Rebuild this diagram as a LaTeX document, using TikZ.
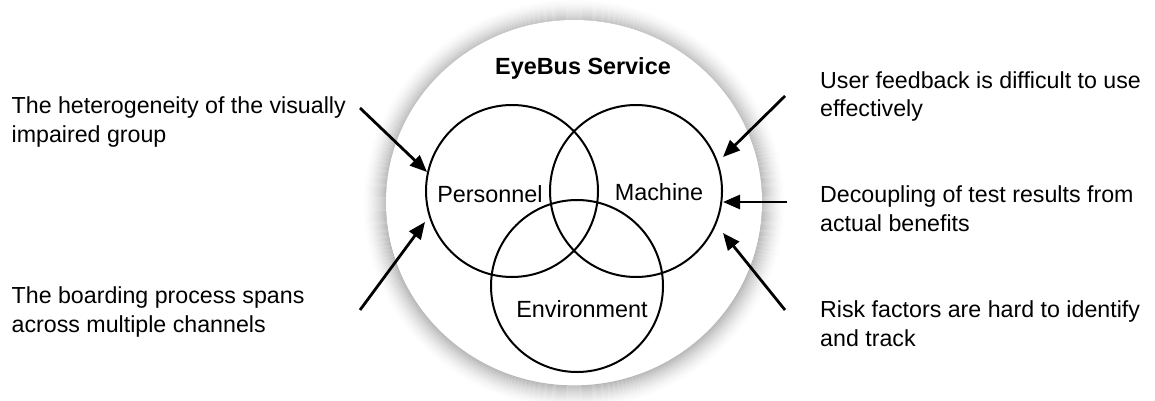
\documentclass[tikz,border=0pt]{standalone}
\usepackage{fontspec}
\setmainfont{Liberation Sans}
\usetikzlibrary{arrows.meta}
\tikzset{
  every picture/.style={x=1pt,y=-1pt},
  % multi-line notes: anchored at the baseline of their last line
  txt/.style={inner sep=0pt,align=left,anchor=base west,font=\fontsize{23.2}{28.8}\selectfont},
  lbl/.style={inner sep=0pt,font=\fontsize{23.4}{27}\selectfont},
  venn/.style={draw=black,line width=2pt,circle,minimum size=172pt,inner sep=0pt},
  push/.style={line width=2.8pt,-{Triangle[length=17pt,width=14pt]}}
}
\begin{document}
\begin{tikzpicture}
\useasboundingbox (0,0) rectangle (1155,401);
% soft grey halo behind the service disc
\foreach \i [evaluate=\i as \g using {28*(1-\i/24)^1.6}] in {0,...,24}
  \draw[line width=1.2pt,draw=black!\g] (574,204) ellipse ({188+\i} and {182+\i});
\fill[white] (574,202) ellipse (188 and 182);

\node[lbl,font=\bfseries\fontsize{23.4}{27}\selectfont] (title) at (583,68) {EyeBus Service};

% the three overlapping domains
\node[venn] (P) at (512,191) {};
\node[venn] (M) at (636,191) {};
\node[venn] (E) at (577,286) {};
\node[lbl] (pl) at (490,194) {Personnel};
\node[lbl] (ml) at (659,192) {Machine};
\node[lbl] (el) at (582,309) {Environment};

% issues on the left
\node[txt] (t1) at (11.5,142) {The heterogeneity of the visually\\impaired group};
\node[txt] (t2) at (11.5,332) {The boarding process spans\\across multiple channels};
% issues on the right
\node[txt] (t3) at (820,117) {User feedback is difficult to use\\effectively};
\node[txt] (t4) at (820,231) {Decoupling of test results from\\actual benefits};
\node[txt] (t5) at (820,346) {Risk factors are hard to identify\\and track};

% arrow ends
\coordinate (s1) at (360,108);
\coordinate (e1) at (427,172);
\coordinate (s2) at (360,310);
\coordinate (e2) at (425,222);
\coordinate (s3) at (785,96);
\coordinate (e3) at (723,157);
\coordinate (s4) at (787,202);
\coordinate (e4) at (723,202);
\coordinate (s5) at (785,310);
\coordinate (e5) at (723,233);

\draw[push] (s1) -- (e1);
\draw[push] (s2) -- (e2);
\draw[push] (s3) -- (e3);
\draw[push] (s4) -- (e4);
\draw[push] (s5) -- (e5);
\end{tikzpicture}
\end{document}
